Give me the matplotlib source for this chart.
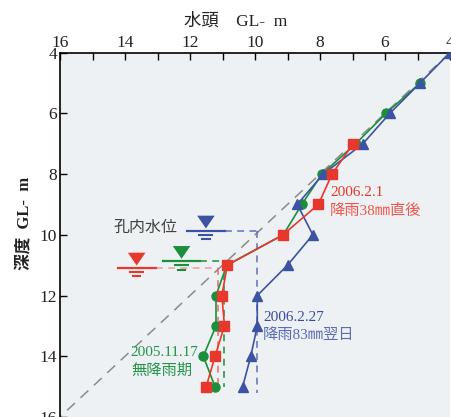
import matplotlib
matplotlib.use("Agg")
import matplotlib.pyplot as plt  # noqa: E402
from matplotlib.ticker import MultipleLocator  # noqa: E402

plt.rcParams["font.family"] = ["Liberation Serif", "Noto Sans CJK JP", "DejaVu Sans"]

# --- data (head and depth in GL- m) ---
green_depth = [5, 6, 7, 8, 9, 10, 11, 12, 13, 14, 15]
green_head = [4.92, 5.97, 6.9, 7.94, 8.56, 9.13, 10.87, 11.2, 11.2, 11.59, 11.23]

red_depth = [7, 8, 9, 10, 11, 12, 13, 14, 15]
red_head = [6.98, 7.63, 8.05, 9.14, 10.85, 11.02, 10.94, 11.23, 11.5]

blue_depth = [4, 5, 6, 7, 8, 9, 10, 11, 12, 13, 14, 15]
blue_head = [4.0, 4.92, 5.85, 6.68, 7.9, 8.7, 8.22, 9.0, 9.93, 9.93, 10.13, 10.38]

# borehole water levels: level depth, head of the vertical guide, guide bottom
wl_names = ["blue", "green", "red"]
wl_depth = [9.87, 10.87, 11.09]
wl_head = [9.93, 10.95, 11.15]
wl_bottom = [15.2, 15.0, 15.0]

RED = "#e8372c"
GREEN = "#1a8f3c"
BLUE = "#3c53a4"

fig = plt.figure(figsize=(4.51, 4.17), dpi=100)
ax = fig.add_axes([60 / 451, 0.0, 390 / 451, 364.4 / 417])
ax.set_facecolor("#eef1f3")
ax.set_xlim(16, 4)
ax.set_ylim(16, 4)

# hydrostatic line (head = depth)
ax.axline((4, 4), (16, 16), color="#8a8a8a", lw=1.1, dashes=(7, 5), zorder=1)

# water level guides + symbols
sym_x = {"blue": 11.51, "green": 12.26, "red": 13.64}   # symbol centres
guide_col = {"blue": "#6070b8", "green": GREEN, "red": "#f19c98"}
vert_col = {"blue": "#6070b8", "green": GREEN, "red": "#ee6a62"}
sym_col = {"blue": BLUE, "green": GREEN, "red": RED}
for name, d, h, bot in zip(wl_names, wl_depth, wl_head, wl_bottom):
    xs, c = sym_x[name], sym_col[name]
    ax.plot([xs + 0.58, xs - 0.58], [d, d], color=c, lw=1.6, zorder=3)
    ax.plot([xs + 0.2, xs - 0.2], [d + 0.14, d + 0.14], color=c, lw=1.5, zorder=3)
    ax.plot([xs + 0.11, xs - 0.11], [d + 0.28, d + 0.28], color=c, lw=1.5, zorder=3)
    ax.fill([xs + 0.27, xs - 0.27, xs], [d - 0.5, d - 0.5, d - 0.08],
            color=c, lw=0, zorder=3)
    ax.plot([xs - 0.58, h], [d, d], color=guide_col[name], lw=1.1,
            dashes=(4.5, 3.5), zorder=2)
    ax.plot([h, h], [d, bot], color=vert_col[name], lw=1.1,
            dashes=(4.5, 3.5), zorder=2)

# profiles
ax.plot(green_head, green_depth, color=GREEN, lw=1.2, marker="o", ms=6.5, zorder=4)
ax.plot(blue_head, blue_depth, color=BLUE, lw=1.2, marker="^", ms=7.5, zorder=5)
ax.plot(red_head, red_depth, color=RED, lw=1.2, marker="s", ms=6.8, zorder=6)

# annotations
ax.text(14.37, 9.78, "孔内水位", color="#404040", fontsize=11.5, va="center", ha="left")
ax.text(7.69, 8.62, "2006.2.1", color=RED, fontsize=11, va="center", ha="left")
ax.text(7.69, 9.22, "降雨38㎜直後", color="#ee564c", fontsize=11, va="center", ha="left")
ax.text(9.75, 12.71, "2006.2.27", color="#3a4a9c", fontsize=11, va="center", ha="left")
ax.text(9.75, 13.3, "降雨83㎜翌日", color="#5a6bb5", fontsize=11, va="center", ha="left")
ax.text(13.82, 13.86, "2005.11.17", color="#23954a", fontsize=11, va="center", ha="left")
ax.text(13.82, 14.49, "無降雨期", color="#23954a", fontsize=11, va="center", ha="left")

# axes styling
for s in ("right", "bottom"):
    ax.spines[s].set_visible(False)
for s in ("top", "left"):
    ax.spines[s].set_linewidth(1.2)
ax.xaxis.tick_top()
ax.xaxis.set_major_locator(MultipleLocator(2))
ax.xaxis.set_minor_locator(MultipleLocator(1))
ax.yaxis.set_major_locator(MultipleLocator(2))
ax.tick_params(axis="x", which="both", direction="in", length=5, width=1,
               labelsize=12.5, pad=1.5, top=True, bottom=False)
ax.tick_params(axis="y", which="both", direction="in", length=5, width=1,
               labelsize=12.5, pad=2, right=False)
for lab in ax.get_xticklabels() + ax.get_yticklabels():
    lab.set_color("#222222")

fig.text(236 / 451, 1 - 22 / 417, "水頭　GL-  m", fontsize=12.5, ha="center",
         va="center", color="#222222")
fig.text(25 / 451, 1 - 223 / 417, "深度  GL-  m", fontsize=12, ha="center",
         va="center", rotation=90, fontweight="bold", color="#222222")

fig.savefig("out.png", dpi=100)
